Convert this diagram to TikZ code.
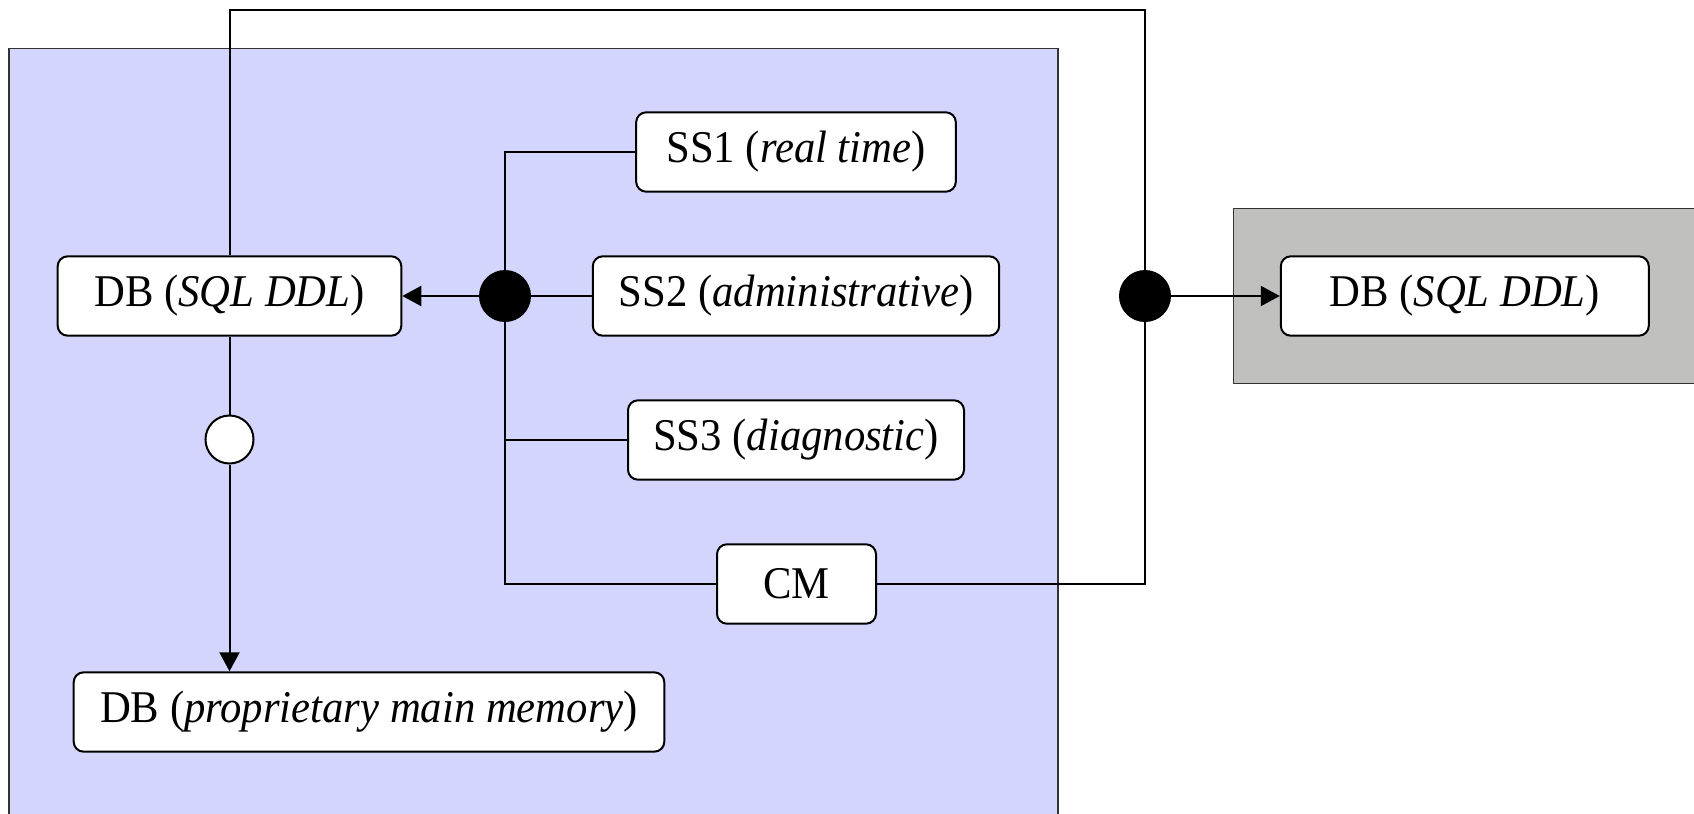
\documentclass[tikz,border=0pt]{standalone}
\usepackage{fontspec}
\setmainfont{Liberation Serif}[FakeStretch=0.94]
\usetikzlibrary{arrows.meta}
\definecolor{panelblue}{RGB}{212,213,252}
\definecolor{panelgray}{RGB}{192,193,191}
\pgfdeclarelayer{panels}
\pgfdeclarelayer{wires}
\pgfsetlayers{panels,wires,main}
\begin{document}
\begin{tikzpicture}[x=0.5pt,y=-0.5pt,
  box/.style={draw, rounded corners=5pt, fill=white, line width=1pt,
    minimum height=39.7pt, inner sep=0pt, font=\fontsize{22.7}{26}\selectfont},
  conn/.style={line width=1pt},
  arr/.style={conn, -{Triangle[length=9.5pt,width=10pt]}},
  junction/.style={circle, draw, line width=1pt, minimum size=25pt, inner sep=0pt},
  panel/.style={draw=black!80, line width=0.8pt}
]
\useasboundingbox (0,0) rectangle (1694,814);
\clip (0,0) rectangle (1694,814);

% process boxes
\node[box, minimum width=171.8pt] (db1) at (229.5,296) {DB (\textit{SQL DDL})};
\node[box, minimum width=159.8pt] (ss1) at (796,152) {SS1 (\textit{real time})};
\node[box, minimum width=203.2pt] (ss2) at (796,296) {SS2 (\textit{administrative})};
\node[box, minimum width=168pt]   (ss3) at (796,440) {SS3 (\textit{diagnostic})};
\node[box, minimum width=79.5pt]  (cm)  at (796.5,584) {CM};
\node[box, minimum width=295.3pt] (db3) at (369,712) {DB (\textit{proprietary main memory})};
\node[box, minimum width=184pt]   (db2) at (1464.8,296) {DB (\textit{SQL DDL})};

% junctions
\node[junction, fill=black] (j1) at (505,296) {};
\node[junction, fill=black] (j2) at (1145,296) {};
\node[junction, fill=white, minimum size=24pt] (w1) at (229.5,439.5) {};
\coordinate (topright) at (1145,9.5);

% enclosing panels
\begin{pgfonlayer}{panels}
  \fill[panelblue] (8.8,48.3) rectangle (1057.9,840);
  \draw[panel] (8.8,840) -- (8.8,48.3) -- (1057.9,48.3) -- (1057.9,840);
  \fill[panelgray] (1233.6,208.3) rectangle (1720,383.3);
  \draw[panel] (1720,208.3) -- (1233.6,208.3) -- (1233.6,383.3) -- (1720,383.3);
\end{pgfonlayer}

% connectors
\begin{pgfonlayer}{wires}
  \draw[conn] (ss1.west) -| (j1.center) |- (cm.west);
  \draw[conn] (ss3.west) -- (ss3.west -| j1.center);
  \draw[conn] (j1.center) -- (ss2.west);
  \draw[conn] (cm.east) -| (topright) -| (db1.north);
  \draw[conn] (db1.south) -- (w1.north);
\end{pgfonlayer}
\draw[arr] (j1.west) -- (db1.east);
\draw[arr] (j2.east) -- (db2.west);
\draw[arr] (w1.south) -- (w1.south |- db3.north);
\end{tikzpicture}
\end{document}
